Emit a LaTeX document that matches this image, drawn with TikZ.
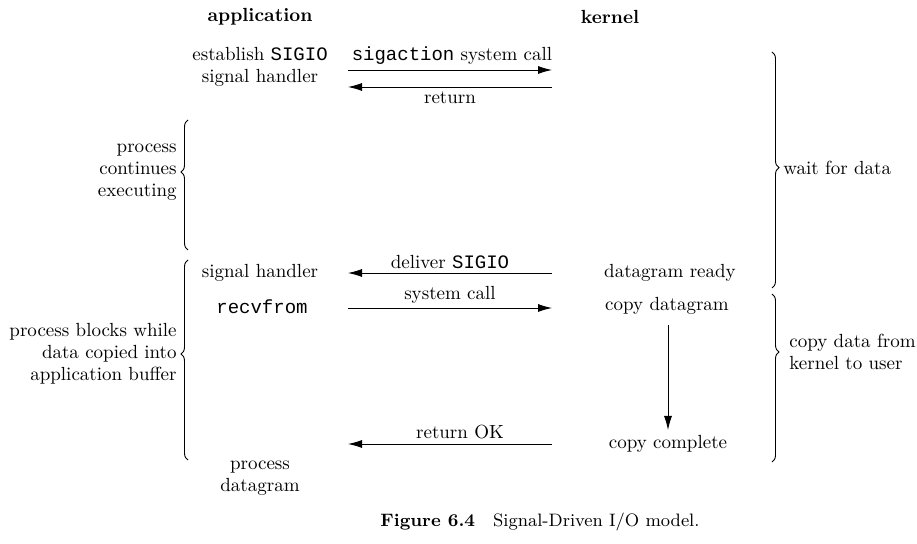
\documentclass[tikz,border=0pt]{standalone}
\usepackage{fontspec}
\setmonofont{Liberation Mono}
\usepackage{tikz}
\usetikzlibrary{positioning,arrows.meta,decorations.pathreplacing}

\begin{document}
\begin{tikzpicture}[x=0.5pt, y=-0.5pt,
        txt/.style={inner sep=0pt, font=\fontsize{9.5}{11}\selectfont},
        msg/.style={-{Latex[length=7pt,width=4pt]}, line width=0.45pt},
        grp/.style={decorate, decoration={brace, amplitude=3.5pt, aspect=#1}, line width=0.45pt}]
        \useasboundingbox (0,0) rectangle (917,544);

        % Nodes
        \node[txt, font=\fontsize{9.5}{11}\selectfont\bfseries] (app) at (260,17) {application};
        \node[txt, font=\fontsize{9.5}{11}\selectfont\bfseries] (ker) at (610,17) {kernel};
        \node[txt, align=center] (est) at (260,67) {establish \texttt{SIGIO}\\signal handler};
        \node[txt] (sact) at (452,56) {\texttt{sigaction} system call};
        \node[txt] (ret) at (450,98) {return};
        \node[txt, align=right, anchor=east] (cont) at (177,172) {process\\continues\\executing};
        \node[txt] (sigh) at (260,273) {signal handler};
        \node[txt] (dlv) at (450,262) {deliver \texttt{SIGIO}};
        \node[txt] (dgr) at (670,273) {datagram ready};
        \node[txt] (recv) at (262,307) {\texttt{recvfrom}};
        \node[txt] (sysc) at (450,295) {system call};
        \node[txt] (cpyd) at (667,306) {copy datagram};
        \node[txt, align=right, anchor=east] (blk) at (177,354) {process blocks while\\data copied into\\application buffer};
        \node[txt] (retok) at (460,432) {return OK};
        \node[txt] (cpyc) at (668,444) {copy complete};
        \node[txt, align=center] (proc) at (260,478) {process\\datagram};
        \node[txt, anchor=west] (wait) at (783,168) {wait for data};
        \node[txt, align=left, anchor=west] (copy) at (789,352) {copy data from\\kernel to user};
        \node[txt, font=\fontsize{9}{11}\selectfont] (cap) at (540,522) {\textbf{Figure 6.4}\quad Signal-Driven I/O model.};

        % Arrow ends
        \coordinate (a1) at (348,70);  \coordinate (k1) at (552,70);
        \coordinate (a2) at (348,87);  \coordinate (k2) at (552,87);
        \coordinate (a3) at (348,273); \coordinate (k3) at (552,273);
        \coordinate (a4) at (348,308); \coordinate (k4) at (552,308);
        \coordinate (a5) at (348,444); \coordinate (k5) at (552,444);
        \coordinate (c1) at (668,325); \coordinate (c2) at (668,430);

        % Edges
        \draw[msg] (a1) -- (k1);
        \draw[msg] (k2) -- (a2);
        \draw[msg] (k3) -- (a3);
        \draw[msg] (a4) -- (k4);
        \draw[msg] (k5) -- (a5);
        \draw[msg] (c1) -- (c2);

        % Braces
        \draw[grp=0.6] (188,250) -- (188,120);
        \draw[grp=0.53] (188,460) -- (188,260);
        \draw[grp=0.49] (772,52) -- (772,288);
        \draw[grp=0.345] (772,294) -- (772,462);
    \end{tikzpicture}
\end{document}
